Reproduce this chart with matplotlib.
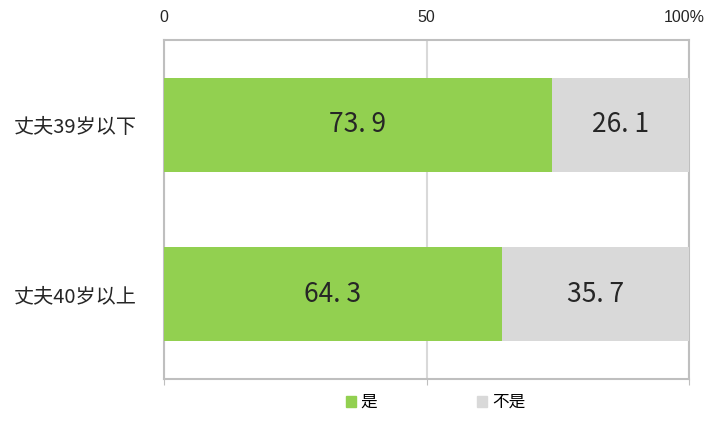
import matplotlib
matplotlib.use("Agg")
import matplotlib.pyplot as plt
import matplotlib.transforms as mtransforms
from matplotlib.patches import Patch

plt.rcParams['font.family'] = ['Noto Sans CJK SC', 'DejaVu Sans']

# data
groups = ["丈夫39岁以下", "丈夫40岁以上"]
yes_vals = [73.9, 64.3]
no_vals = [26.1, 35.7]
series_names = ["是", "不是"]
xticks = [0, 50, 100]
xtick_labels = ["0", "50", "100%"]

green = "#92d050"
grey = "#d9d9d9"
frame = "#bfbfbf"

fig = plt.figure(figsize=(7.07, 4.24), dpi=100)
ax = fig.add_axes([164 / 707, 1 - 379 / 424, 525 / 707, 339 / 424])

pos = range(len(groups))
ax.barh(pos, yes_vals, height=0.555, color=green, zorder=3)
ax.barh(pos, no_vals, left=yes_vals, height=0.555, color=grey, zorder=3)

for i in pos:
    ax.text(yes_vals[i] / 2, i, f"{yes_vals[i]:.1f}".replace(".", ". "),
            ha="center", va="center", fontsize=19, color="#262626", zorder=4)
    ax.text(yes_vals[i] + no_vals[i] / 2, i, f"{no_vals[i]:.1f}".replace(".", ". "),
            ha="center", va="center", fontsize=19, color="#262626", zorder=4)

ax.set_xlim(0, 100)
ax.set_ylim(1.5, -0.5)
ax.set_yticks(list(pos))
ax.set_yticklabels(groups, fontsize=14.5, color="#262626")
ax.tick_params(axis="y", length=0, pad=20)

ax.set_xticks(xticks)
ax.set_xticklabels(xtick_labels, fontfamily="Liberation Sans", fontsize=11.5, color="#262626")
ax.tick_params(axis="x", bottom=True, top=False, labelbottom=False, labeltop=True,
               length=4, color=frame, pad=7)
ax.grid(axis="x", color="#d9d9d9", linewidth=1.5, zorder=0)

# pull the "100%" label slightly inward so it stays inside the figure
last = ax.get_xticklabels()[-1]
last.set_transform(last.get_transform() + mtransforms.ScaledTranslation(-5 / 100, 0, fig.dpi_scale_trans))

for s in ax.spines.values():
    s.set_color(frame)
    s.set_linewidth(1.5)

handles = [Patch(color=green), Patch(color=grey)]
fig.legend(handles, series_names, loc="lower center", bbox_to_anchor=(0.616, -0.005), ncol=2,
           frameon=False, fontsize=12, handlelength=0.6, handleheight=0.6,
           handletextpad=0.3, columnspacing=6)

fig.savefig("out.png", dpi=100)
